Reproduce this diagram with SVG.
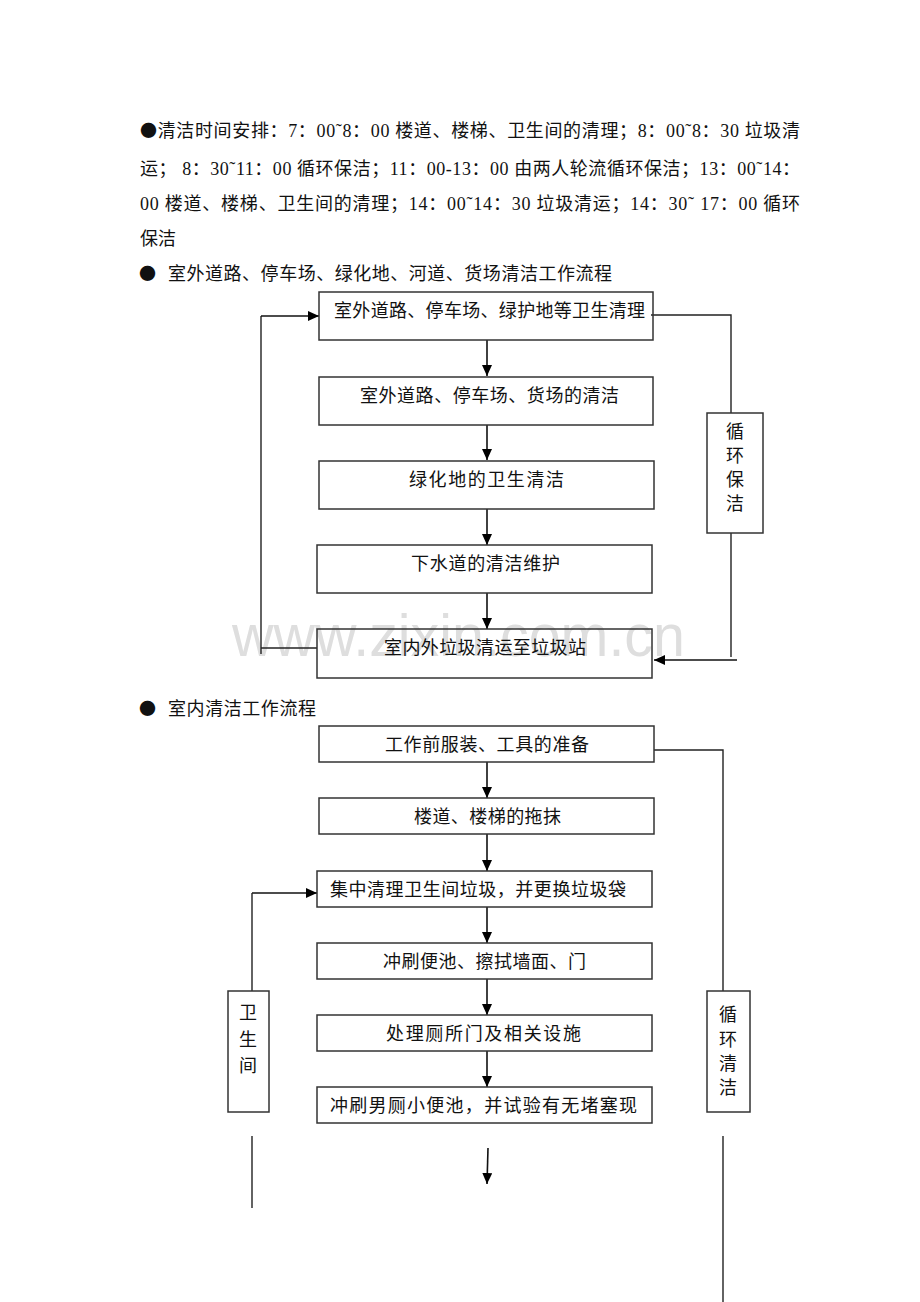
<svg xmlns="http://www.w3.org/2000/svg" width="920" height="1302" viewBox="0 0 920 1302">
<style>
text{font-family:"Liberation Serif","Noto Sans CJK SC",serif;font-size:18px;fill:#111}
.bl{font-family:"Noto Sans CJK SC",sans-serif;font-size:17px}
.box{fill:none;stroke:#333;stroke-width:1.5}
.ln{fill:none;stroke:#222;stroke-width:1.4}
.ar{fill:none;stroke:#111;stroke-width:1.6;marker-end:url(#ah)}
.wm{font-family:"Liberation Sans",Arial,sans-serif;font-size:60px;fill:#dedede}
.mid{text-anchor:middle}
</style>
<defs>
<marker id="ah" markerUnits="userSpaceOnUse" markerWidth="12" markerHeight="10" refX="11" refY="5" orient="auto">
<path d="M0,0 L11,5 L0,10 Z" fill="#000"/>
</marker>
</defs>
<rect width="920" height="1302" fill="#fff"/>
<text class="wm" x="232" y="656" textLength="453" lengthAdjust="spacingAndGlyphs">www.zixin.com.cn</text>
<g id="intro">
<text x="140" y="137" textLength="660" lengthAdjust="spacing"><tspan class="bl">●</tspan>清洁时间安排：7：00˜8：00 楼道、楼梯、卫生间的清理；8：00˜8：30 垃圾清</text>
<text x="140" y="175" textLength="660" lengthAdjust="spacing">运；  8：30˜11：00 循环保洁；11：00-13：00 由两人轮流循环保洁；13：00˜14：</text>
<text x="140" y="210" textLength="660" lengthAdjust="spacing">00 楼道、楼梯、卫生间的清理；14：00˜14：30 垃圾清运；14：30˜ 17：00 循环</text>
<text x="140" y="245">保洁</text>
</g>
<g id="heading1"><text class="bl" x="139" y="280">●</text><text x="168" y="280" textLength="444" lengthAdjust="spacing">室外道路、停车场、绿化地、河道、货场清洁工作流程</text></g>
<g id="heading2"><text class="bl" x="139" y="715">●</text><text x="168" y="715" textLength="148" lengthAdjust="spacing">室内清洁工作流程</text></g>
<g id="connectors">
<line class="ar" x1="487" y1="340" x2="487" y2="376"/>
<line class="ar" x1="487" y1="425" x2="487" y2="460"/>
<line class="ar" x1="487" y1="509" x2="487" y2="545"/>
<line class="ar" x1="487" y1="593" x2="487" y2="629"/>
<polyline class="ln" points="317,648 261,648"/>
<line class="ln" x1="261" y1="316" x2="261" y2="654"/>
<line class="ar" x1="261" y1="316" x2="319" y2="316"/>
<polyline class="ln" points="651,315 731,315 731,413"/>
<line class="ln" x1="731" y1="533" x2="731" y2="657"/>
<line class="ar" x1="737" y1="660" x2="654" y2="660"/>
<line class="ar" x1="487" y1="762" x2="487" y2="798"/>
<line class="ar" x1="487" y1="834" x2="487" y2="871"/>
<line class="ar" x1="487" y1="907" x2="487" y2="943"/>
<line class="ar" x1="487" y1="979" x2="487" y2="1015"/>
<line class="ar" x1="487" y1="1051" x2="487" y2="1087"/>
<line class="ar" x1="488" y1="1148" x2="487" y2="1184"/>
<line class="ar" x1="252" y1="893" x2="317" y2="893"/>
<line class="ln" x1="252" y1="893" x2="252" y2="991"/>
<line class="ln" x1="252" y1="1136" x2="252" y2="1208"/>
<polyline class="ln" points="654,750 723,750 723,991"/>
<line class="ln" x1="723" y1="1136" x2="723" y2="1302"/>
</g>
<g id="n1"><rect class="box" x="319" y="292" width="334" height="48"/><text x="334" y="317" textLength="311" lengthAdjust="spacing">室外道路、停车场、绿护地等卫生清理</text></g>
<g id="n2"><rect class="box" x="319" y="377" width="334" height="48"/><text x="360" y="402" textLength="259" lengthAdjust="spacing">室外道路、停车场、货场的清洁</text></g>
<g id="n3"><rect class="box" x="319" y="461" width="335" height="48"/><text x="409" y="486" textLength="155" lengthAdjust="spacing">绿化地的卫生清洁</text></g>
<g id="n4"><rect class="box" x="317" y="545" width="335" height="48"/><text x="411" y="570" textLength="149" lengthAdjust="spacing">下水道的清洁维护</text></g>
<g id="n5"><rect class="box" x="317" y="629" width="335" height="49"/><text x="384" y="654" textLength="202" lengthAdjust="spacing">室内外垃圾清运至垃圾站</text></g>
<g id="loop1"><rect class="box" x="707" y="413" width="56" height="120"/>
<text class="mid" x="735" y="438">循</text><text class="mid" x="735" y="462">环</text><text class="mid" x="735" y="486">保</text><text class="mid" x="735" y="510">洁</text></g>
<g id="m1"><rect class="box" x="319" y="726" width="335" height="36"/><text x="385" y="751" textLength="204" lengthAdjust="spacing">工作前服装、工具的准备</text></g>
<g id="m2"><rect class="box" x="319" y="798" width="335" height="36"/><text x="414" y="823" textLength="147" lengthAdjust="spacing">楼道、楼梯的拖抹</text></g>
<g id="m3"><rect class="box" x="317" y="871" width="335" height="36"/><text x="330" y="896" textLength="296" lengthAdjust="spacing">集中清理卫生间垃圾，并更换垃圾袋</text></g>
<g id="m4"><rect class="box" x="317" y="943" width="335" height="36"/><text x="383" y="968" textLength="203" lengthAdjust="spacing">冲刷便池、擦拭墙面、门</text></g>
<g id="m5"><rect class="box" x="317" y="1015" width="335" height="36"/><text x="386" y="1040" textLength="195" lengthAdjust="spacing">处理厕所门及相关设施</text></g>
<g id="m6"><rect class="box" x="317" y="1087" width="335" height="36"/><text x="330" y="1112" textLength="307" lengthAdjust="spacing">冲刷男厕小便池，并试验有无堵塞现</text></g>
<g id="wc"><rect class="box" x="228" y="991" width="41" height="121"/>
<text class="mid" x="248" y="1019">卫</text><text class="mid" x="248" y="1046">生</text><text class="mid" x="248" y="1072">间</text></g>
<g id="loop2"><rect class="box" x="707" y="991" width="43" height="121"/>
<text class="mid" x="728" y="1021">循</text><text class="mid" x="728" y="1046">环</text><text class="mid" x="728" y="1070">清</text><text class="mid" x="728" y="1094">洁</text></g>
</svg>
